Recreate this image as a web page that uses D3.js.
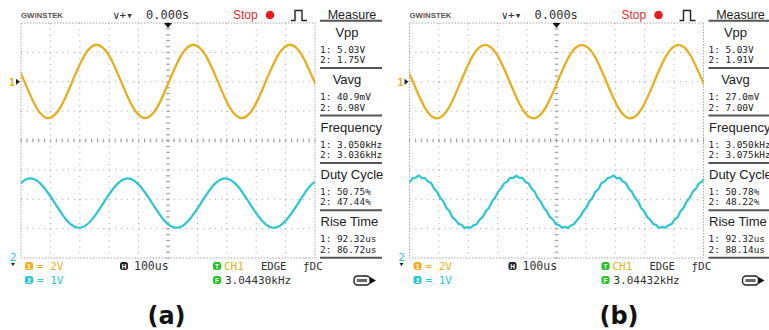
<!DOCTYPE html>
<html><head><meta charset="utf-8">
<script src="https://cdn.jsdelivr.net/npm/d3@7"></script>
<style>body{margin:0;background:#fff}svg{display:block}</style>
</head><body>
<svg id="c" width="769" height="330"></svg>
<script>
// ---------------- data ----------------
const timePerDivUs = 100;
const ch1VoltsPerDiv = 2, ch2VoltsPerDiv = 1;
const ch1GroundDiv = 2, ch2GroundDiv = -4;

// CH1 (yellow) samples, time in µs, volts
const ch1aT = [-530,-489,-448,-407,-366,-325,-284,-243,-201,-160,-119,-78,-37,4,45,86,128,169,210,251,292,333,374,415,456,497,538];
const ch1aV = [1.8,0.04,-1.75,-2.48,-1.75,0.04,1.8,2.52,1.8,0.04,-1.75,-2.48,-1.75,0.04,1.8,2.52,1.8,0.04,-1.75,-2.48,-1.75,0.04,1.8,2.52,1.8,0.04,-1.75];
const ch1bT = [-530,-489,-448,-407,-366,-325,-284,-243,-201,-160,-119,-78,-37,4,45,86,128,169,210,251,292,333,374,415,456,497,538];
const ch1bV = [1.79,0.03,-1.76,-2.49,-1.76,0.03,1.79,2.51,1.79,0.03,-1.76,-2.49,-1.76,0.03,1.79,2.51,1.79,0.03,-1.76,-2.49,-1.76,0.03,1.79,2.51,1.79,0.03,-1.76];

// CH2 (cyan) panel (a)
const ch2aT = [-551,-509,-468,-427,-385,-344,-302,-261,-220,-178,-137,-96,-54,-13,29,70,112,153,194,236,277,319,360,401,443,484,525];
const ch2aV = [1.87,2.46,2.71,2.46,1.87,1.28,1.03,1.28,1.87,2.46,2.71,2.46,1.87,1.28,1.03,1.28,1.87,2.46,2.71,2.46,1.87,1.28,1.03,1.28,1.87,2.46,2.71];

// CH2 (cyan) panel (b): noisy record, sampled every 10.35 µs from -530 µs
const ch2bStartUs = -530, ch2bStepUs = 10.35;
const ch2bV = [
 2.26,2.36,2.55,2.59,2.72,2.74,2.81,2.72,2.72,2.60,2.55,2.36,2.25,2.04,1.93,1.71,1.60,1.39,1.30,1.16,1.13,1.02,1.05,1.03,1.12,1.15,1.31,1.40,1.60,1.70,1.92,2.05,
 2.25,2.37,2.54,2.60,2.73,2.73,2.80,2.73,2.73,2.59,2.54,2.37,2.26,2.05,1.92,1.72,1.59,1.40,1.31,1.15,1.12,1.03,1.06,1.02,1.11,1.16,1.30,1.41,1.59,1.71,1.93,2.04,
 2.26,2.35,2.55,2.60,2.72,2.75,2.81,2.71,2.73,2.60,2.55,2.35,2.25,2.05,1.93,1.70,1.60,1.40,1.30,1.16,1.12,1.02,1.06,1.03,1.12,1.15,1.31,1.39,1.60,1.71,1.92,2.05,
 2.26,2.36,2.54,2.60,2.73,2.73,2.80];

const measureTitles = ["Vpp","Vavg","Frequency","Duty Cycle","Rise Time"];
const measA1 = ["5.03V","40.9mV","3.050kHz","50.75%","92.32us"];
const measA2 = ["1.75V","6.98V","3.036kHz","47.44%","86.72us"];
const measB1 = ["5.03V","27.0mV","3.050kHz","50.78%","92.32us"];
const measB2 = ["1.91V","7.00V","3.075kHz","48.22%","88.14us"];
const trigFreq = ["3.04430kHz","3.04432kHz"];
const captions = ["(a)","(b)"];

// ---------------- drawing ----------------
const svg = d3.select("#c");
const YEL = "#e3b020", CYA = "#2cc6cf", GRN = "#22c422", GRID = "#a0a0a0", DARK = "#333";
const MONO = "DejaVu Sans Mono", SANS = "Liberation Sans";

function pairs(T, V){ return T.map((t,i)=>({t, v:V[i]})); }

const panels = [
  {dx:0, ch1:pairs(ch1aT,ch1aV), ch2:pairs(ch2aT,ch2aV), m1:measA1, m2:measA2, f:trigFreq[0], cap:captions[0], capX:166.5, noisy:false},
  {dx:388.5, ch1:pairs(ch1bT,ch1bV), ch2:ch2bV.map((v,i)=>({t:ch2bStartUs+i*ch2bStepUs, v})), m1:measB1, m2:measB2, f:trigFreq[1], cap:captions[1], capX:619, noisy:true}
];

panels.forEach((P, pi) => {
  const g = svg.append("g").attr("transform", `translate(${P.dx},0)`);
  const gx0 = 21, gx1 = 315, gy0 = 23, gy1 = 258;
  const x = d3.scaleLinear().domain([-5*timePerDivUs, 5*timePerDivUs]).range([gx0, gx1]);
  const y = d3.scaleLinear().domain([-4, 4]).range([gy1, gy0]);
  const divPx = (gx1-gx0)/10;
  const dotDash = `1 ${divPx/5-1}`;

  // grid
  const grid = g.append("g");
  d3.range(-4, 5).forEach(d => {
    if (Math.abs(d)===4) return;
    grid.append("line").attr("x1",gx0).attr("x2",gx1).attr("y1",y(d)).attr("y2",y(d))
      .attr("stroke",GRID).attr("stroke-width",1).attr("stroke-dasharray",dotDash);
  });
  d3.range(-5, 6).forEach(d => {
    if (Math.abs(d)===5) return;
    grid.append("line").attr("x1",x(d*timePerDivUs)).attr("x2",x(d*timePerDivUs)).attr("y1",gy0).attr("y2",gy1)
      .attr("stroke",GRID).attr("stroke-width",1).attr("stroke-dasharray",dotDash);
  });
  // centre crosshair minor ticks
  d3.range(-20, 21).forEach(k => {
    const yy = y(k/5);
    grid.append("line").attr("x1",x(0)-2).attr("x2",x(0)+2).attr("y1",yy).attr("y2",yy).attr("stroke",GRID);
  });
  d3.range(-25, 26).forEach(k => {
    const xx = x(k*timePerDivUs/5);
    grid.append("line").attr("x1",xx).attr("x2",xx).attr("y1",y(0)-2).attr("y2",y(0)+2).attr("stroke",GRID);
  });
  // border
  grid.append("rect").attr("x",gx0).attr("y",gy0).attr("width",gx1-gx0).attr("height",gy1-gy0)
    .attr("fill","none").attr("stroke","#a8a8a8").attr("stroke-dasharray","1.5 1.5");

  // traces
  const clipId = "clip"+pi;
  g.append("clipPath").attr("id",clipId).append("rect")
    .attr("x",gx0).attr("y",gy0-2).attr("width",gx1-gx0).attr("height",gy1-gy0+4);
  const l1 = d3.line().x(d=>x(d.t)).y(d=>y(d.v/ch1VoltsPerDiv + ch1GroundDiv)).curve(d3.curveNatural);
  const l2 = d3.line().x(d=>x(d.t)).y(d=>y(d.v/ch2VoltsPerDiv + ch2GroundDiv))
    .curve(P.noisy ? d3.curveLinear : d3.curveNatural);
  const tr = g.append("g").attr("clip-path",`url(#${clipId})`);
  tr.append("path").attr("d",l2(P.ch2)).attr("fill","none").attr("stroke",CYA).attr("stroke-width",2.2).attr("stroke-linejoin","round");
  tr.append("path").attr("d",l1(P.ch1)).attr("fill","none").attr("stroke",YEL).attr("stroke-width",2.3);

  // ground markers
  g.append("text").attr("x",12).attr("y",y(ch1GroundDiv)+4).attr("text-anchor","middle")
    .attr("font-family",MONO).attr("font-size",10).attr("font-weight","bold").attr("fill",YEL).text("1");
  g.append("path").attr("d",`M16,${y(ch1GroundDiv)-3}L20,${y(ch1GroundDiv)}L16,${y(ch1GroundDiv)+3}Z`).attr("fill","#222");
  g.append("text").attr("x",13).attr("y",y(ch2GroundDiv)+3).attr("text-anchor","middle")
    .attr("font-family",MONO).attr("font-size",11).attr("fill",CYA).text("2");
  g.append("path").attr("d",`M11,${y(ch2GroundDiv)+5}L15,${y(ch2GroundDiv)+5}L13,${y(ch2GroundDiv)+8}Z`).attr("fill","#222");

  // trigger marker
  g.append("path").attr("d",`M${x(0)-4},23L${x(0)+4},23L${x(0)},28Z`).attr("fill","#111");

  // top bar
  g.append("text").attr("x",21).attr("y",18).attr("font-family",SANS).attr("font-size",7.5).attr("font-weight","bold")
    .attr("fill","#555").attr("textLength",42).attr("lengthAdjust","spacingAndGlyphs")
    .html('GW<tspan fill="#d05030">I</tspan>NSTEK');
  g.append("text").attr("x",113).attr("y",19).attr("font-family",MONO).attr("font-size",11).attr("fill",DARK).text("∨+▾");
  g.append("text").attr("x",146).attr("y",19).attr("font-family",MONO).attr("font-size",12).attr("fill",DARK).text("0.000s");
  g.append("text").attr("x",233).attr("y",19).attr("font-family",SANS).attr("font-size",12).attr("fill","#e03030").text("Stop");
  g.append("circle").attr("cx",270).attr("cy",15).attr("r",4.3).attr("fill","#e02020");
  g.append("path").attr("d","M291,20.5H295V10.5H302V20.5H307").attr("fill","none").attr("stroke","#222").attr("stroke-width",1.4);

  // measure column
  const mx = 320, mw = 62;
  g.append("text").attr("x",mx+32).attr("y",19).attr("text-anchor","middle").attr("font-family",SANS)
    .attr("font-size",12.5).attr("fill","#222").text("Measure");
  const sepY = d3.range(6).map(i => 20.7 + i*47.4);
  sepY.forEach(s => g.append("line").attr("x1",mx).attr("x2",mx+mw).attr("y1",s).attr("y2",s)
    .attr("stroke","#555").attr("stroke-width",2));
  measureTitles.forEach((t,i) => {
    const s = sepY[i];
    const centred = t.length <= 4;
    g.append("text").attr("x", centred ? mx+27 : mx+0.5).attr("y", s+16).attr("text-anchor", centred ? "middle":"start")
      .attr("font-family",SANS).attr("font-size",13).attr("fill","#222").text(t);
    g.append("text").attr("x",mx).attr("y",s+32).attr("font-family",MONO).attr("font-size",9.4).attr("fill","#222").text("1: "+P.m1[i]);
    g.append("text").attr("x",mx).attr("y",s+42.5).attr("font-family",MONO).attr("font-size",9.4).attr("fill","#222").text("2: "+P.m2[i]);
  });

  // bottom status
  function badge(bx, by, col, lab){
    g.append("rect").attr("x",bx).attr("y",by-4).attr("width",8).attr("height",8).attr("rx",2.5).attr("fill",col);
    g.append("text").attr("x",bx+4).attr("y",by+2.5).attr("text-anchor","middle").attr("font-family",SANS)
      .attr("font-size",6.5).attr("font-weight","bold").attr("fill","#fff").text(lab);
  }
  badge(25, 266, "#f0b020", "1");
  badge(25, 280, CYA, "2");
  g.append("text").attr("x",37).attr("y",270).attr("font-family",MONO).attr("font-size",11).attr("fill","#eab030").text("= 2V");
  g.append("text").attr("x",37).attr("y",284).attr("font-family",MONO).attr("font-size",11).attr("fill",CYA).text("= 1V");
  badge(120, 266, "#222", "H");
  g.append("text").attr("x",134).attr("y",270).attr("font-family",MONO).attr("font-size",11.5).attr("fill",DARK).text("100us");
  badge(213, 266, GRN, "T");
  badge(213, 280, GRN, "F");
  g.append("text").attr("x",224).attr("y",270).attr("font-family",MONO).attr("font-size",11).attr("fill","#e8b020").text("CH1");
  g.append("text").attr("x",261).attr("y",270).attr("font-family",MONO).attr("font-size",10.5).attr("fill",DARK).text("EDGE");
  g.append("text").attr("x",303).attr("y",270).attr("font-family",MONO).attr("font-size",11).attr("fill",DARK).text("ƒDC");
  g.append("text").attr("x",225).attr("y",284).attr("font-family",MONO).attr("font-size",11).attr("fill",DARK).text(P.f);
  // usb icon
  g.append("rect").attr("x",354).attr("y",276).attr("width",16).attr("height",9).attr("rx",3.5)
    .attr("fill","#fff").attr("stroke","#222").attr("stroke-width",1.4);
  g.append("rect").attr("x",357).attr("y",279).attr("width",10).attr("height",3).attr("fill","#666");
  g.append("path").attr("d","M370,277L376,280.5L370,284Z").attr("fill","#111");

  // caption
  svg.append("text").attr("x",P.capX).attr("y",324).attr("text-anchor","middle").attr("font-family","DejaVu Sans")
    .attr("font-weight","bold").attr("font-size",24).attr("fill","#111").text(P.cap);
});
</script>
</body></html>
